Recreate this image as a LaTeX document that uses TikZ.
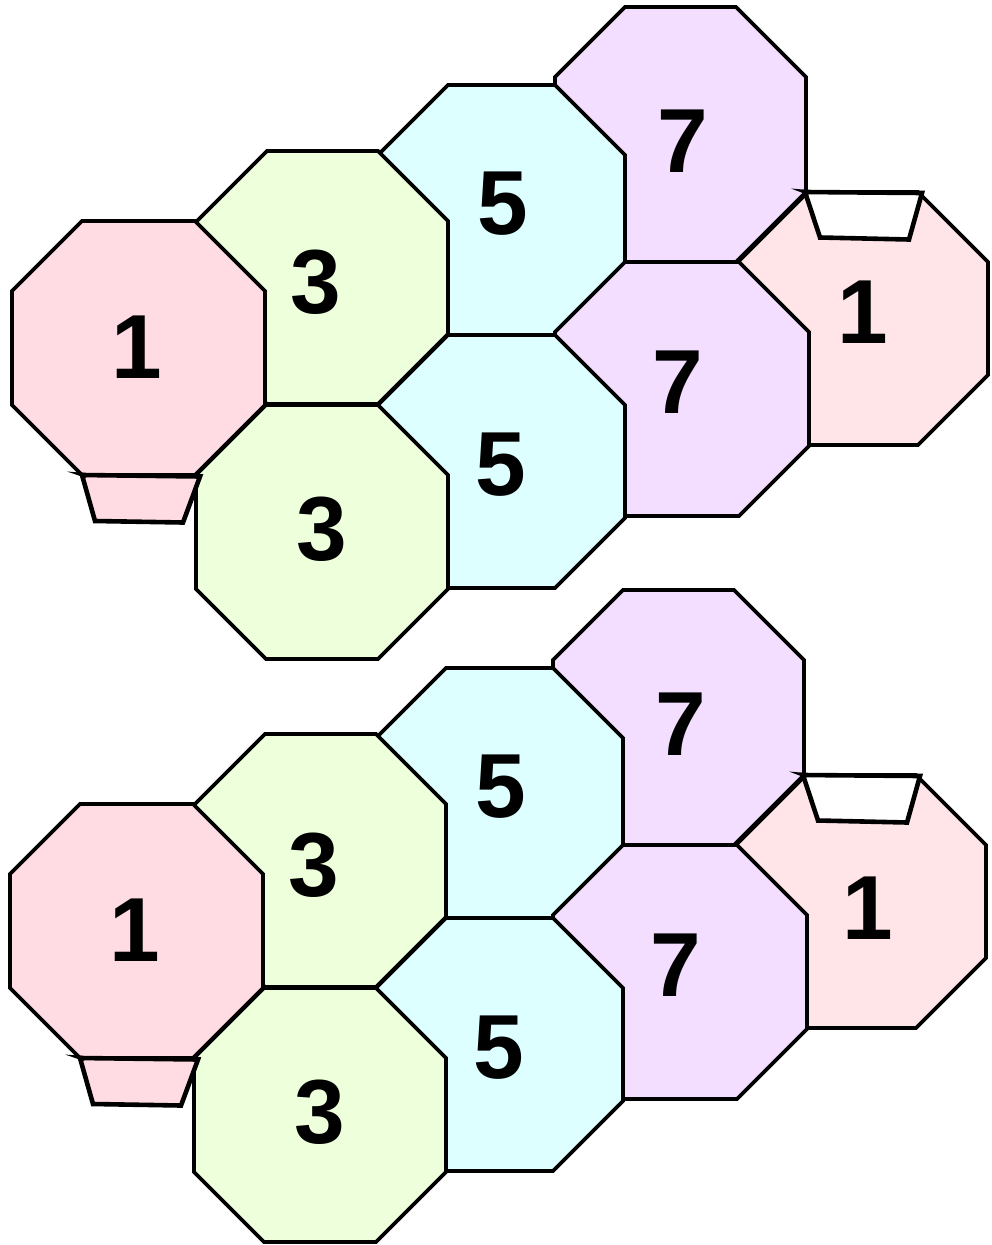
\documentclass[tikz,border=0pt]{standalone}
\usepackage{fontspec}
\setmainfont{Liberation Sans}
\definecolor{pinkA}{RGB}{255,220,227}
\definecolor{pinkB}{RGB}{255,228,232}
\definecolor{greenA}{RGB}{238,255,220}
\definecolor{cyanA}{RGB}{221,255,255}
\definecolor{purpleA}{RGB}{243,222,255}
\tikzset{
  octa/.style={draw=black, line width=3.6pt, line join=miter},
  trap/.style={draw=black, line width=4.6pt, line join=miter},
  numlabel/.style={inner sep=0pt, font=\bfseries\fontsize{91}{91}\selectfont},
}
% #1 x1, #2 y1, #3 x2, #4 y2, #5 fill colour
\newcommand\drawocta[5]{%
  \path[octa, fill=#5] ({#1+70},#2) -- ({#3-70},#2) -- (#3,{#2+70}) -- (#3,{#4-70})
    -- ({#3-70},#4) -- ({#1+70},#4) -- (#1,{#4-70}) -- (#1,{#2+70}) -- cycle;}
% #1 shift x, #2 shift y, #3 prefix, #4 x of right "1", #5 y of right "1"
\newcommand\drawfigure[5]{%
\begin{scope}[shift={(#1,#2)}]
  % top row
  \drawocta{555}{7}{806}{262}{purpleA}
  \drawocta{378}{85}{625}{335}{cyanA}
  \drawocta{197}{151}{448}{404}{greenA}
  \drawocta{12}{221}{265}{475}{pinkA}
  % bottom row
  \drawocta{738}{192}{988}{445}{pinkB}
  \drawocta{555}{262}{809}{516}{purpleA}
  \drawocta{378}{335}{625}{588}{cyanA}
  \drawocta{196}{405}{448}{659}{greenA}
  % trapezoids
  \path[trap, fill=pinkA] (82,475) -- (200,476.5) -- (183,522.5) -- (95,521) -- cycle;
  \fill (67,471.5) -- (86,473) -- (86,478) -- cycle;
  \path[trap, fill=white] (805,192) -- (922,193) -- (909,239.5) -- (820,237.5) -- cycle;
  \fill (791,188.5) -- (808,190) -- (808,195) -- cycle;
  % labels
  \node[numlabel] (#3k1) at (137,347.5) {1};
  \node[numlabel] (#3g1) at (316,282.5) {3};
  \node[numlabel] (#3c1) at (503,204) {5};
  \node[numlabel] (#3p1) at (682.5,141) {7};
  \node[numlabel] (#3kr) at (#4,#5) {1};
  \node[numlabel] (#3g2) at (322,529) {3};
  \node[numlabel] (#3c2) at (501,465) {5};
  \node[numlabel] (#3p2) at (677.5,382.5) {7};
\end{scope}}
\begin{document}
\begin{tikzpicture}[x=1pt,y=-1pt]
\useasboundingbox (0,0) rectangle (991,1245);
\drawfigure{0}{0}{top}{863}{312}
\drawfigure{-2}{583}{bot}{869.5}{325}
\end{tikzpicture}
\end{document}
